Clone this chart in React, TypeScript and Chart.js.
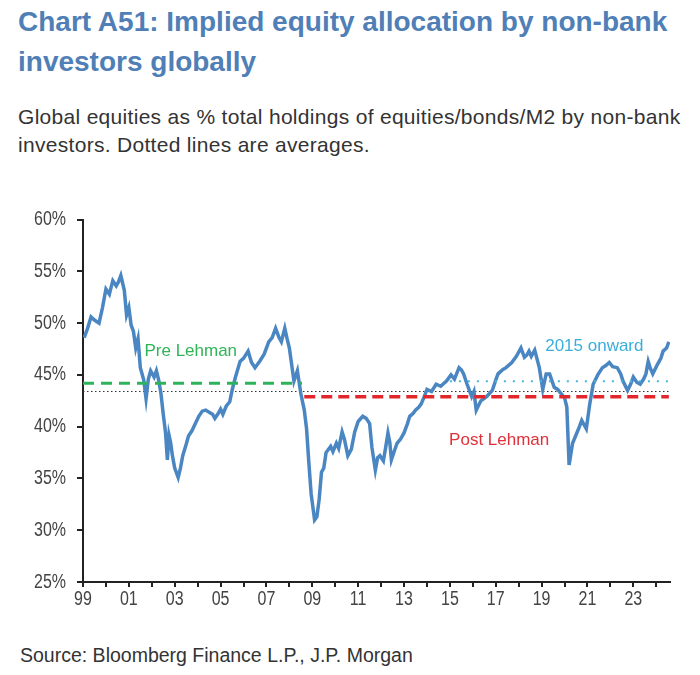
import React, { useEffect, useRef } from "react";
import { Chart, registerables } from "chart.js";

Chart.register(...registerables);

const years: number[] = [
  1999.05, 1999.2, 1999.35, 1999.5, 1999.7, 1999.85, 2000.0, 2000.15, 2000.3, 2000.45, 2000.55, 2000.65,
  2000.8, 2000.9, 2001.0, 2001.1, 2001.2, 2001.3, 2001.4, 2001.5, 2001.65, 2001.75, 2001.85, 2001.95,
  2002.1, 2002.2, 2002.3, 2002.4, 2002.5, 2002.6, 2002.68, 2002.75, 2002.82, 2002.9, 2003.0, 2003.15,
  2003.25, 2003.35, 2003.5, 2003.6, 2003.75, 2003.9, 2004.05, 2004.2, 2004.35, 2004.5, 2004.65, 2004.75,
  2004.9, 2005.0, 2005.1, 2005.25, 2005.4, 2005.5, 2005.65, 2005.85, 2006.0, 2006.2, 2006.35, 2006.5,
  2006.7, 2006.9, 2007.1, 2007.25, 2007.4, 2007.55, 2007.65, 2007.8, 2007.9, 2008.0, 2008.1, 2008.2,
  2008.35, 2008.5, 2008.65, 2008.75, 2008.85, 2008.95, 2009.1, 2009.2, 2009.3, 2009.4, 2009.5, 2009.6,
  2009.7, 2009.8, 2009.9, 2010.05, 2010.15, 2010.3, 2010.4, 2010.55, 2010.7, 2010.85, 2011.0, 2011.2,
  2011.35, 2011.5, 2011.6, 2011.75, 2011.85, 2011.95, 2012.1, 2012.2, 2012.3, 2012.38, 2012.45, 2012.6,
  2012.7, 2012.85, 2013.0, 2013.15, 2013.25, 2013.4, 2013.5, 2013.65, 2013.75, 2013.9, 2014.0, 2014.2,
  2014.4, 2014.6, 2014.85, 2015.05, 2015.2, 2015.4, 2015.5, 2015.6, 2015.75, 2015.95, 2016.05, 2016.15,
  2016.35, 2016.6, 2016.85, 2017.0, 2017.1, 2017.3, 2017.45, 2017.7, 2017.9, 2018.1, 2018.25, 2018.35,
  2018.45, 2018.55, 2018.7, 2018.9, 2019.05, 2019.2, 2019.35, 2019.55, 2019.7, 2019.85, 2020.0, 2020.1,
  2020.2, 2020.35, 2020.5, 2020.65, 2020.75, 2020.95, 2021.1, 2021.25, 2021.45, 2021.65, 2021.8, 2021.95,
  2022.1, 2022.3, 2022.45, 2022.55, 2022.75, 2022.9, 2023.0, 2023.15, 2023.3, 2023.45, 2023.55, 2023.65,
  2023.75, 2023.85, 2024.05, 2024.2, 2024.3, 2024.45, 2024.55,
];

const allocation: number[] = [
  48.6, 49.5, 50.6, 50.3, 50.0, 51.5, 53.3, 52.8, 54.1, 53.6, 54.0, 54.6,
  53.2, 50.8, 51.5, 49.8, 49.2, 47.6, 48.5, 45.7, 44.5, 42.7, 44.6, 45.4,
  44.8, 45.4, 44.5, 43.2, 41.2, 39.4, 36.8, 39.2, 38.5, 37.2, 36.0, 35.1,
  36.0, 37.2, 38.3, 39.1, 39.6, 40.3, 41.0, 41.5, 41.6, 41.4, 41.2, 40.8,
  41.3, 41.7, 41.2, 42.0, 42.4, 43.5, 44.8, 46.3, 46.6, 47.3, 46.2, 45.7,
  46.3, 47.0, 48.2, 48.6, 49.5, 48.6, 48.2, 49.5, 48.5, 47.6, 46.0, 44.4,
  45.4, 43.2, 41.6, 39.8, 36.5, 33.5, 31.0, 31.3, 33.0, 35.6, 36.0, 37.5,
  37.8, 38.1, 37.6, 38.4, 37.9, 39.5, 38.8, 37.2, 37.8, 39.5, 40.5, 41.0,
  40.8, 40.3, 38.0, 35.8, 37.0, 37.2, 36.7, 38.0, 39.4, 38.5, 36.8, 37.8,
  38.4, 38.8, 39.4, 40.3, 41.0, 41.3, 41.6, 41.9, 42.2, 43.0, 43.6, 43.4,
  44.1, 43.9, 44.4, 45.0, 44.6, 45.7, 45.5, 45.1, 44.1, 42.9, 43.4, 41.6,
  42.5, 42.9, 43.5, 44.5, 45.1, 45.5, 45.7, 46.2, 46.8, 47.6, 46.7, 46.9,
  47.3, 46.8, 47.4, 45.7, 43.6, 45.1, 45.1, 43.8, 43.6, 43.2, 42.8, 41.9,
  36.3, 38.4, 39.2, 40.0, 40.6, 39.8, 42.2, 44.1, 45.0, 45.7, 45.9, 46.2,
  45.8, 45.7, 45.1, 44.4, 43.5, 44.2, 44.8, 44.3, 44.1, 44.6, 45.1, 46.3,
  45.6, 45.1, 46.0, 46.6, 47.3, 47.6, 48.2,
];

// Averages: [start year, end year, value]
const avgFull: number[] = [1999.0, 2024.55, 43.4];
const avgPre: number[] = [1999.0, 2008.55, 44.2];
const avgPost: number[] = [2008.65, 2024.55, 42.9];
const avg2015: number[] = [2015.0, 2024.55, 44.4];

const yTicks: number[] = [25, 30, 35, 40, 45, 50, 55, 60];
const xLabelYears: number[] = [1999, 2001, 2003, 2005, 2007, 2009, 2011, 2013, 2015, 2017, 2019, 2021, 2023];

// Annotation labels: [text, x year, y value, colour]
const annotations: [string, number, number, string][] = [
  ["Pre Lehman", 2003.7, 47.3, "#2fb457"],
  ["2015 onward", 2021.3, 47.8, "#3aaedb"],
  ["Post Lehman", 2017.15, 38.7, "#e0303a"],
];

const seg = (a: number[]) => [
  { x: a[0], y: a[2] },
  { x: a[1], y: a[2] },
];

const SANS = "'Liberation Sans', Arial, sans-serif";
const yLabel = (v: number) => `${v}%`;
const xLabel = (v: number) => (xLabelYears.includes(v) ? String(v % 100).padStart(2, "0") : "");

// Draws the axes' tick labels in a condensed face (the reference uses a narrow font)
const condensedTicksPlugin = {
  id: "condensedTicks",
  afterDraw(chart: any) {
    const { ctx, scales } = chart;
    const sx = 0.8;
    ctx.save();
    ctx.font = `20px ${SANS}`;
    ctx.fillStyle = "#444";
    ctx.textBaseline = "middle";
    ctx.textAlign = "right";
    const yRight = scales.y.right - 17;
    for (const v of yTicks) {
      const py = scales.y.getPixelForValue(v);
      ctx.save();
      ctx.translate(yRight, py);
      ctx.scale(sx, 1);
      ctx.fillText(yLabel(v), 0, 0);
      ctx.restore();
    }
    ctx.textAlign = "center";
    const xy = scales.x.top + 17;
    for (const t of scales.x.ticks) {
      const s = xLabel(t.value);
      if (!s) continue;
      const px = scales.x.getPixelForValue(t.value);
      ctx.save();
      ctx.translate(px, xy);
      ctx.scale(sx, 1);
      ctx.fillText(s, 0, 0);
      ctx.restore();
    }
    ctx.restore();
  },
};

const labelPlugin = {
  id: "annoLabels",
  afterDatasetsDraw(chart: any) {
    const { ctx, scales } = chart;
    ctx.save();
    ctx.font = `17px ${SANS}`;
    ctx.textAlign = "center";
    ctx.textBaseline = "middle";
    for (const [t, x, y, c] of annotations) {
      ctx.fillStyle = c;
      ctx.fillText(t, scales.x.getPixelForValue(x), scales.y.getPixelForValue(y));
    }
    ctx.restore();
  },
};

export default function App() {
  const ref = useRef<HTMLCanvasElement>(null);
  useEffect(() => {
    if (!ref.current) return;
    const chart = new Chart(ref.current, {
      type: "line",
      data: {
        datasets: [
          {
            data: seg(avgPost),
            borderColor: "#e3262b",
            borderWidth: 3.5,
            borderDash: [11, 6],
            pointRadius: 0,
          },
          {
            data: seg(avgPre),
            borderColor: "#2db45a",
            borderWidth: 3,
            borderDash: [11, 7],
            pointRadius: 0,
          },
          {
            data: seg(avg2015),
            borderColor: "#45b6de",
            borderWidth: 2,
            borderDash: [2, 7],
            pointRadius: 0,
          },
          {
            data: years.map((x, i) => ({ x, y: allocation[i] })),
            borderColor: "#4a86c2",
            borderWidth: 3.5,
            pointRadius: 0,
            tension: 0,
          },
          {
            data: seg(avgFull),
            borderColor: "#333333",
            borderWidth: 1.2,
            borderDash: [1.5, 2.5],
            pointRadius: 0,
          },
        ],
      },
      options: {
        animation: false,
        responsive: false,
        layout: { padding: { top: 13, right: 30, left: 0, bottom: 0 } },
        plugins: { legend: { display: false }, tooltip: { enabled: false }, title: { display: false } },
        scales: {
          x: {
            type: "linear",
            min: 1999,
            max: 2024.6,
            afterBuildTicks: (scale: any) => {
              const t = [];
              for (let y = 1999; y <= 2024; y++) t.push({ value: y });
              scale.ticks = t;
            },
            afterFit: (scale: any) => {
              scale.height = 30;
            },
            ticks: {
              autoSkip: false,
              maxRotation: 0,
              padding: 1,
              color: "rgba(0,0,0,0)",
              font: { family: SANS, size: 16 },
              callback: (v: any) => xLabel(Number(v)),
            },
            grid: { drawOnChartArea: false, drawTicks: true, tickLength: 5, color: "#222", lineWidth: 2 },
            border: { color: "#222", width: 2 },
          },
          y: {
            type: "linear",
            min: 25,
            max: 60,
            afterBuildTicks: (scale: any) => {
              scale.ticks = yTicks.map((v) => ({ value: v }));
            },
            afterFit: (scale: any) => {
              scale.width = 83;
            },
            ticks: {
              padding: 10,
              color: "rgba(0,0,0,0)",
              font: { family: SANS, size: 16 },
              callback: (v: any) => yLabel(Number(v)),
            },
            grid: { drawOnChartArea: false, drawTicks: true, tickLength: 6, color: "#222", lineWidth: 2 },
            border: { color: "#222", width: 2 },
          },
        },
      },
      plugins: [labelPlugin, condensedTicksPlugin],
    } as any);
    return () => chart.destroy();
  }, []);

  return (
    <div style={{ position: "absolute", left: 0, top: 0, width: 700, height: 675, background: "#fff", fontFamily: SANS }}>
      <div
        style={{
          position: "absolute",
          left: 18,
          top: 2,
          width: 690,
          fontSize: 28,
          lineHeight: "40px",
          fontWeight: "bold",
          color: "#4f7fb6",
          whiteSpace: "nowrap",
        }}
      >
        Chart A51: Implied equity allocation by non-bank
        <br />
        investors globally
      </div>
      <div
        style={{
          position: "absolute",
          left: 18,
          top: 103,
          width: 690,
          fontSize: 21,
          letterSpacing: "0.3px",
          lineHeight: "28px",
          color: "#333",
          whiteSpace: "nowrap",
        }}
      >
        Global equities as % total holdings of equities/bonds/M2 by non-bank
        <br />
        investors. Dotted lines are averages.
      </div>
      <canvas ref={ref} width={700} height={412} style={{ position: "absolute", left: 0, top: 200 }} />
      <div style={{ position: "absolute", left: 20, top: 643, fontSize: 19.5, lineHeight: "24px", color: "#333" }}>
        Source: Bloomberg Finance L.P., J.P. Morgan
      </div>
    </div>
  );
}
